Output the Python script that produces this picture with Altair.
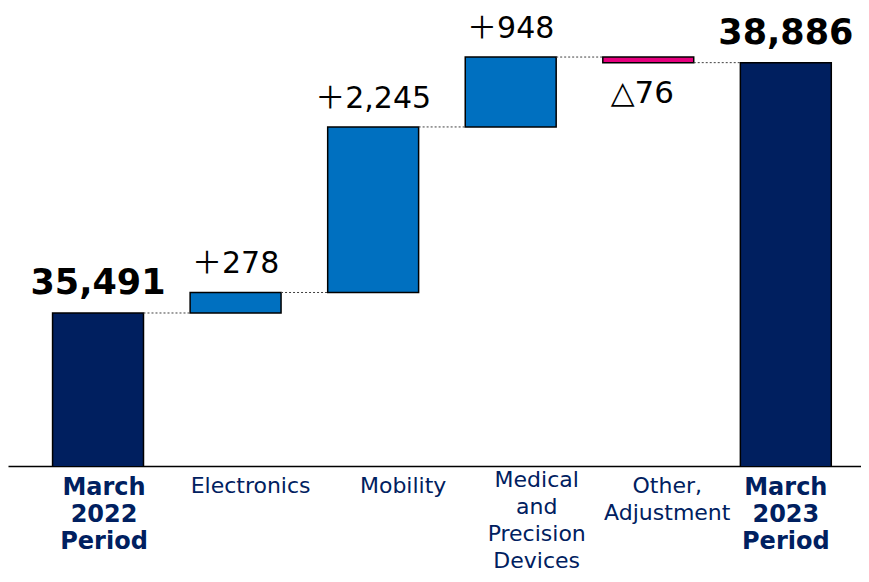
import altair as alt
import pandas as pd

categories = ["March|2022|Period", "Electronics", "Mobility",
              "Medical|and|Precision|Devices", "Other,|Adjustment", "March|2023|Period"]
kinds = ["total", "increase", "increase", "increase", "decrease", "total"]
amounts = [35491, 278, 2245, 948, -76, 38886]
value_labels = ["35,491", "＋278", "＋2,245", "＋948", "△76", "38,886"]

rows = []
running = 0
for c, k, a, l in zip(categories, kinds, amounts, value_labels):
    if k == "total":
        start, end = 0, a
        running = a
    else:
        start, end = running, running + a
        running = end
    rows.append({"cat": c, "kind": k, "start": start, "end": end, "label": l})
df = pd.DataFrame(rows)

conn = pd.DataFrame([
    {"x": categories[i], "x2": categories[i + 1], "y": rows[i]["end"]}
    for i in range(len(categories) - 1)
])

FONT = "DejaVu Sans, Noto Sans CJK JP"
xscale = alt.Scale(domain=categories, paddingInner=0.339, paddingOuter=0.27, align=0.6)
yscale = alt.Scale(domain=[33416, 39627], zero=False, nice=False)

is_total = "indexof(datum.value, 'March') >= 0"
x_enc = alt.X("cat:N", sort=categories, scale=xscale, title=None,
              axis=alt.Axis(
                  labelExpr="split(datum.label, '|')",
                  labelAngle=0, ticks=False,
                  labelPadding={"condition": {"test": "datum.value == 'Medical|and|Precision|Devices'", "value": 3}, "value": 9},
                  labelBaseline="top", labelLineHeight=27,
                  labelFont=FONT, labelColor="#002060",
                  labelFontSize={"condition": {"test": is_total, "value": 24}, "value": 22},
                  labelFontWeight={"condition": {"test": is_total, "value": "bold"}, "value": "normal"},
                  labelOffset={"condition": [
                      {"test": "datum.value == 'March|2022|Period'", "value": 6},
                      {"test": "datum.value == 'Electronics'", "value": 15},
                      {"test": "datum.value == 'Mobility'", "value": 30},
                      {"test": "datum.value == 'Medical|and|Precision|Devices'", "value": 26},
                      {"test": "datum.value == 'Other,|Adjustment'", "value": 19},
                  ], "value": 0},
                  domainColor="#000000", domainWidth=1.5, grid=False,
              ))

bars = alt.Chart(df).mark_bar(stroke="#000000", strokeWidth=1.5, clip=True).encode(
    x=x_enc,
    y=alt.Y("start:Q", scale=yscale, axis=None),
    y2="end:Q",
    color=alt.Color("kind:N", scale=alt.Scale(domain=["total", "increase", "decrease"],
                                               range=["#001F5F", "#0070C0", "#E6007E"]), legend=None),
)

rules = alt.Chart(conn).mark_rule(strokeDash=[2, 2], color="#404040", strokeWidth=1).encode(
    x=alt.X("x:N", sort=categories, scale=xscale, bandPosition=1),
    x2=alt.X2("x2:N", bandPosition=0),
    y=alt.Y("y:Q", scale=yscale),
)

tot_text = alt.Chart(df).transform_filter("datum.kind == 'total'").mark_text(
    font=FONT, fontSize=35, fontWeight="bold", baseline="alphabetic", dy=-19, color="#000000"
).encode(x=alt.X("cat:N", sort=categories, scale=xscale), y=alt.Y("end:Q", scale=yscale), text="label:N")

inc_text = alt.Chart(df).transform_filter("datum.kind == 'increase'").mark_text(
    font=FONT, fontSize=30, baseline="alphabetic", dy=-19, color="#000000"
).encode(x=alt.X("cat:N", sort=categories, scale=xscale), y=alt.Y("end:Q", scale=yscale), text="label:N")

dec_text = alt.Chart(df).transform_filter("datum.kind == 'decrease'").mark_text(
    font=FONT, fontSize=31, baseline="top", dy=16, dx=-6, color="#000000"
).encode(x=alt.X("cat:N", sort=categories, scale=xscale), y=alt.Y("end:Q", scale=yscale), text="label:N")

chart = alt.layer(bars, rules, tot_text, inc_text, dec_text).properties(
    width=853, height=458,
    autosize=alt.AutoSizeParams(type="none"),
    padding={"left": 0, "top": 0, "right": 0, "bottom": 108},
).configure_view(stroke=None)

chart.save("out.html", embed_options={"renderer": "svg", "actions": False})
